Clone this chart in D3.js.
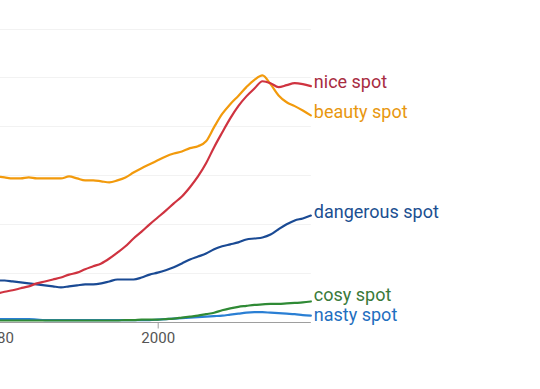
<!DOCTYPE html>
<html>
<head>
<meta charset="utf-8">
<script src="https://cdn.jsdelivr.net/npm/d3@7"></script>
<style>
  html, body { margin: 0; padding: 0; background: #fff; }
  svg { display: block; font-family: Roboto, "Noto Sans", sans-serif; }
</style>
</head>
<body>
<script>
// years 1980 - 2019
const years = d3.range(1980, 2020);

const niceSpot = [0.57, 0.61, 0.64, 0.68, 0.72, 0.78, 0.82, 0.86, 0.90, 0.96,
                  1.00, 1.07, 1.13, 1.19, 1.29, 1.41, 1.54, 1.70, 1.84, 1.99,
                  2.13, 2.27, 2.42, 2.56, 2.75, 2.97, 3.24, 3.57, 3.87, 4.16,
                  4.41, 4.61, 4.77, 4.92, 4.88, 4.80, 4.84, 4.88, 4.86, 4.82];

const beautySpot = [2.97, 2.95, 2.93, 2.93, 2.95, 2.93, 2.93, 2.93, 2.93, 2.97,
                    2.93, 2.89, 2.89, 2.87, 2.85, 2.89, 2.95, 3.05, 3.14, 3.22,
                    3.30, 3.38, 3.44, 3.48, 3.55, 3.59, 3.69, 3.98, 4.25, 4.45,
                    4.62, 4.80, 4.95, 5.04, 4.86, 4.63, 4.49, 4.41, 4.32, 4.22];

const dangerousSpot = [0.84, 0.84, 0.82, 0.80, 0.78, 0.76, 0.74, 0.72, 0.70, 0.72,
                       0.74, 0.76, 0.76, 0.78, 0.82, 0.86, 0.86, 0.86, 0.90, 0.96,
                       1.00, 1.05, 1.11, 1.19, 1.27, 1.33, 1.39, 1.48, 1.54, 1.58,
                       1.62, 1.68, 1.70, 1.72, 1.78, 1.89, 1.99, 2.07, 2.11, 2.17];

const cosySpot = [0.02, 0.02, 0.02, 0.02, 0.02, 0.02, 0.02, 0.02, 0.02, 0.02,
                  0.02, 0.02, 0.02, 0.02, 0.02, 0.02, 0.03, 0.03, 0.04, 0.04,
                  0.04, 0.05, 0.06, 0.08, 0.10, 0.12, 0.15, 0.18, 0.23, 0.27,
                  0.30, 0.32, 0.34, 0.35, 0.36, 0.36, 0.37, 0.38, 0.39, 0.41];

const nastySpot = [0.05, 0.05, 0.05, 0.05, 0.05, 0.04, 0.03, 0.03, 0.03, 0.03,
                   0.03, 0.03, 0.03, 0.03, 0.03, 0.03, 0.03, 0.03, 0.03, 0.03,
                   0.04, 0.05, 0.06, 0.07, 0.08, 0.09, 0.10, 0.11, 0.12, 0.14,
                   0.16, 0.18, 0.19, 0.19, 0.18, 0.17, 0.16, 0.15, 0.13, 0.12];

const seriesNames = ["nice spot", "beauty spot", "dangerous spot", "cosy spot", "nasty spot"];
const seriesValues = [niceSpot, beautySpot, dangerousSpot, cosySpot, nastySpot];
const lineColors = ["#cf3340", "#f29a0c", "#1a4a94", "#2f8a35", "#2a7fd4"];
const textColors = ["#a82c42", "#e8970f", "#1b4f91", "#3a7a3a", "#1f6fc0"];

const xTicks = [1980, 2000];
const yGrid = [0, 1, 2, 3, 4, 5, 6];

const w = 540;
const h = 389;

const svg = d3.select("body")
    .append("svg")
    .attr("width", w)
    .attr("height", h);

const xScale = d3.scaleLinear()
    .domain([1980, 2000])
    .range([-3.5, 157.7]);

const yScale = d3.scaleLinear()
    .domain([0, 6])
    .range([321.5, 28.5]);

// gridlines
svg.append("g")
    .selectAll("line")
    .data(yGrid.filter(d => d > 0))
    .enter()
    .append("line")
    .attr("x1", 0)
    .attr("x2", xScale(2019))
    .attr("y1", d => Math.round(yScale(d)) + 0.5)
    .attr("y2", d => Math.round(yScale(d)) + 0.5)
    .attr("stroke", "#f2f2f2")
    .attr("stroke-width", 1);

// x axis
const xAxis = d3.axisBottom(xScale)
    .tickValues(xTicks)
    .tickFormat(d3.format("d"))
    .tickSize(6)
    .tickSizeOuter(0);

const xAxisG = svg.append("g")
    .attr("transform", `translate(0, ${Math.round(yScale(0)) + 0.5})`)
    .call(xAxis);

xAxisG.select(".domain")
    .attr("d", `M0,0H${xScale(2019)}`)
    .attr("stroke", "#9e9e9e");
xAxisG.selectAll(".tick line").attr("stroke", "#9e9e9e");
xAxisG.selectAll(".tick text")
    .attr("fill", "#555")
    .attr("y", 10)
    .style("font-size", "15px")
    .style("font-family", "Roboto, sans-serif");

// lines
const line = d3.line()
    .x((d, i) => xScale(years[i]))
    .y(d => yScale(d))
    .curve(d3.curveMonotoneX);

// draw bottom series first so red/orange sit on top
const order = [4, 3, 2, 1, 0];
order.forEach(k => {
    svg.append("path")
        .datum(seriesValues[k])
        .attr("fill", "none")
        .attr("stroke", lineColors[k])
        .attr("stroke-width", 2.2)
        .attr("stroke-linejoin", "round")
        .attr("stroke-linecap", "round")
        .attr("d", line);
});

// end labels with a little spacing so they don't overlap
let labelPos = seriesValues.map((vals, k) => ({
    k: k,
    y: yScale(vals[vals.length - 1]) - 4
}));
labelPos.sort((a, b) => a.y - b.y);
for (let i = 1; i < labelPos.length; i++) {
    if (labelPos[i].y - labelPos[i - 1].y < 19.5) {
        let shift = (19.5 - (labelPos[i].y - labelPos[i - 1].y)) / 2;
        labelPos[i - 1].y -= shift;
        labelPos[i].y += shift;
    }
}

svg.append("g")
    .selectAll("text")
    .data(labelPos)
    .enter()
    .append("text")
    .attr("x", xScale(2019) + 3)
    .attr("y", d => d.y)
    .attr("dy", "0.35em")
    .attr("fill", d => textColors[d.k])
    .style("font-size", "18px")
    .text(d => seriesNames[d.k]);
</script>
</body>
</html>
